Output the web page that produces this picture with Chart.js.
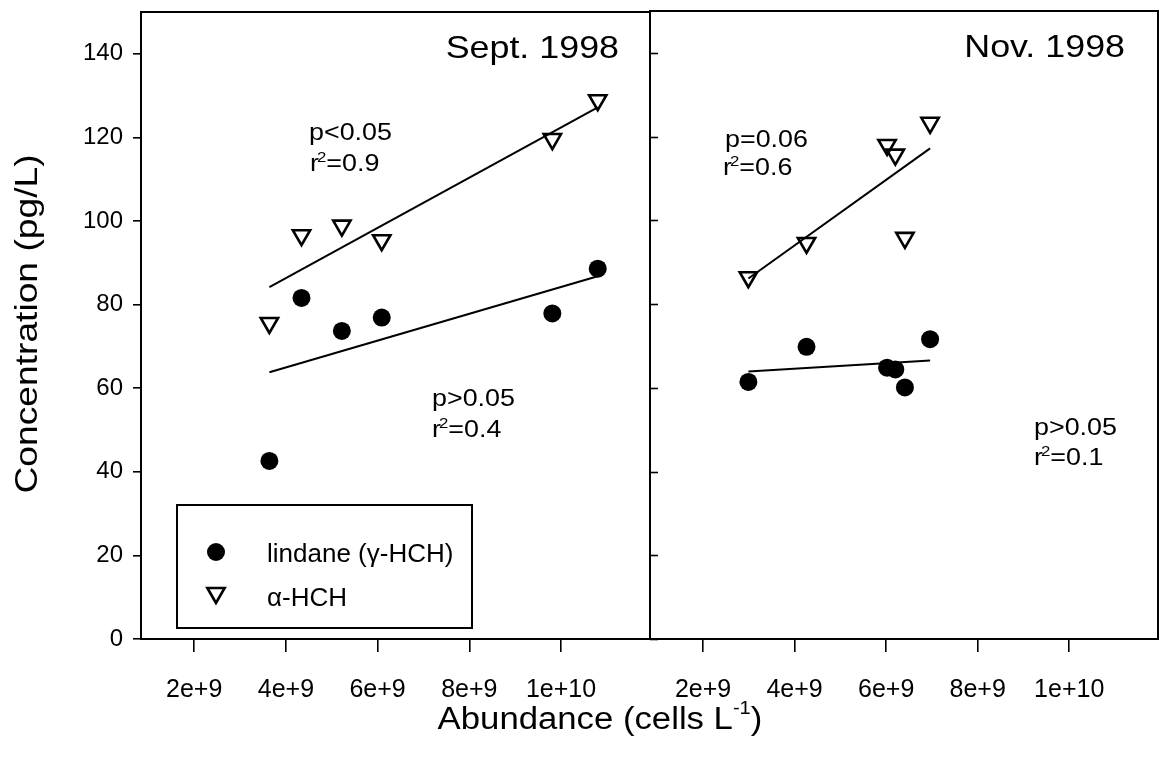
<!DOCTYPE html>
<html><head><meta charset="utf-8">
<script src="https://cdn.jsdelivr.net/npm/chart.js@4"></script>
<style>
html,body{margin:0;padding:0;background:#fff;}
#wrap{position:relative;width:1161px;height:761px;background:#fff;}
#wrap canvas{position:absolute;left:0;top:0;}
</style></head><body>
<div id="wrap"><canvas id="c1" width="1161" height="761"></canvas><canvas id="c2" width="1161" height="761"></canvas></div>
<script>
// ---- data ----
const xTickValues = [2e9, 4e9, 6e9, 8e9, 1e10];
const xTickLabels = ['2e+9', '4e+9', '6e+9', '8e+9', '1e+10'];
const yTickValues = [0, 20, 40, 60, 80, 100, 120, 140];

const septAbundance = [3.64e9, 4.34e9, 5.22e9, 6.09e9, 9.81e9, 10.8e9];
const septLindane   = [42.6, 81.6, 73.7, 76.9, 77.9, 88.6];
const septAlpha     = [75.6, 96.6, 98.9, 95.4, 119.6, 128.9];
const septFitX      = [3.64e9, 10.8e9];
const septLindaneFit = [63.8, 86.8];
const septAlphaFit   = [84.2, 127.2];

const novAbundance = [2.99e9, 4.26e9, 6.02e9, 6.20e9, 6.41e9, 6.96e9];
const novLindane   = [61.4, 69.8, 64.8, 64.4, 60.1, 71.6];
const novAlpha     = [86.4, 94.6, 118.0, 115.7, 95.8, 123.3];
const novFitX      = [2.99e9, 6.96e9];
const novLindaneFit = [63.9, 66.5];
const novAlphaFit   = [86.1, 117.2];

const FONT = "'Liberation Sans', Arial, Helvetica, sans-serif";
const X_MIN = 0.84e9, X_MAX = 11.94e9, Y_MIN = 0, Y_MAX = 150;

const pts = (xs, ys) => xs.map((x, i) => ({x: x, y: ys[i]}));

function datasets(ab, lin, alp, fx, linFit, alpFit) {
  return [
    {label: 'lindane (γ-HCH)', data: pts(ab, lin), pointStyle: 'circle', pointRadius: 9,
     backgroundColor: '#000', borderColor: '#000', borderWidth: 0, showLine: false},
    {label: 'α-HCH', data: pts(ab, alp), pointStyle: 'triangle', rotation: 180, pointRadius: 10,
     backgroundColor: 'rgba(255,255,255,0)', borderColor: '#000', borderWidth: 2.6, showLine: false},
    {label: 'fit1', data: pts(fx, linFit), showLine: true, pointRadius: 0, borderColor: '#000', borderWidth: 2, fill: false},
    {label: 'fit2', data: pts(fx, alpFit), showLine: true, pointRadius: 0, borderColor: '#000', borderWidth: 2, fill: false}
  ];
}

function xScale() {
  return {
    type: 'linear', min: X_MIN, max: X_MAX,
    afterBuildTicks: s => { s.ticks = xTickValues.map(v => ({value: v})); },
    ticks: {
      callback: v => xTickLabels[xTickValues.indexOf(v)],
      color: '#000', font: {family: FONT, size: 25}, padding: 23, maxRotation: 0, autoSkip: false
    },
    grid: {drawOnChartArea: false, drawTicks: true, tickLength: 13, color: '#000', lineWidth: 1.6},
    border: {display: false},
    afterFit: s => { s.height = 122; s.paddingLeft = 0; s.paddingRight = 0; }
  };
}

function frameAndText(drawFn) {
  return {
    id: 'frame',
    afterDatasetsDraw(chart) {
      const ctx = chart.ctx, a = chart.chartArea;
      ctx.save();
      ctx.strokeStyle = '#000';
      ctx.lineWidth = 2;
      ctx.strokeRect(a.left, a.top, a.right - a.left, a.bottom - a.top);
      drawFn(chart, ctx, a);
      ctx.restore();
    }
  };
}

// draw text with optional horizontal stretch (the source typeface is wide)
function txt(ctx, s, x, y, size, align, stretch) {
  const k = stretch || 1;
  ctx.save();
  ctx.font = size + 'px ' + FONT;
  ctx.fillStyle = '#000';
  ctx.textAlign = align || 'left';
  ctx.textBaseline = 'alphabetic';
  ctx.translate(x, y);
  ctx.scale(k, 1);
  ctx.fillText(s, 0, 0);
  ctx.restore();
}
function width(ctx, s, size, stretch) {
  ctx.font = size + 'px ' + FONT;
  return ctx.measureText(s).width * (stretch || 1);
}
function rSq(ctx, val, x, y, size, k) {
  const small = Math.round(size * 0.62);
  txt(ctx, 'r', x, y, size, 'left', k);
  const w = width(ctx, 'r', size, k);
  txt(ctx, '2', x + w - 2, y - size * 0.38, small, 'left', k);
  const w2 = width(ctx, '2', small, k);
  txt(ctx, '=' + val, x + w - 2 + w2, y, size, 'left', k);
}

const K = 1.12;

const leftPlugin = frameAndText((chart, ctx, a) => {
  txt(ctx, 'Sept. 1998', 619, 58, 32, 'right', K);
  txt(ctx, 'p<0.05', 309, 140, 24, 'left', K);
  rSq(ctx, '0.9', 310, 171, 24, K);
  txt(ctx, 'p>0.05', 432, 406, 24, 'left', K);
  rSq(ctx, '0.4', 432, 437, 24, K);
  // legend box
  ctx.lineWidth = 2; ctx.strokeStyle = '#000';
  ctx.strokeRect(177, 505, 295, 123);
  ctx.fillStyle = '#000';
  ctx.beginPath(); ctx.arc(216, 552, 9, 0, Math.PI * 2); ctx.fill();
  const r = 10, cx = 216, cy = 593;
  ctx.beginPath();
  ctx.moveTo(cx, cy + r);
  ctx.lineTo(cx - r * Math.sin(Math.PI / 3), cy - r / 2);
  ctx.lineTo(cx + r * Math.sin(Math.PI / 3), cy - r / 2);
  ctx.closePath(); ctx.lineWidth = 2.6; ctx.stroke();
  txt(ctx, 'lindane (γ-HCH)', 267, 562, 26);
  txt(ctx, 'α-HCH', 267, 606, 26);
  // y axis title
  ctx.save();
  ctx.translate(37, 324);
  ctx.rotate(-Math.PI / 2);
  txt(ctx, 'Concentration (pg/L)', 0, 0, 31, 'center', 1.2);
  ctx.restore();
});

const rightPlugin = frameAndText((chart, ctx, a) => {
  const ys = chart.scales.y;
  ctx.lineWidth = 1.6; ctx.strokeStyle = '#000';
  yTickValues.forEach(v => {
    const p = Math.round(ys.getPixelForValue(v)) + 0.5;
    ctx.beginPath(); ctx.moveTo(a.left, p); ctx.lineTo(a.left + 8, p); ctx.stroke();
  });
  txt(ctx, 'Nov. 1998', 1125, 57, 32, 'right', K);
  txt(ctx, 'p=0.06', 725, 147, 24, 'left', K);
  rSq(ctx, '0.6', 723, 175, 24, K);
  txt(ctx, 'p>0.05', 1034, 435, 24, 'left', K);
  rSq(ctx, '0.1', 1034, 465, 24, K);
  // x axis title spanning both panels
  const big = 31, small = 18;
  const t1 = 'Abundance (cells L', sup = '-1', t2 = ')';
  const w1 = width(ctx, t1, big, K), w2 = width(ctx, sup, small, K), w3 = width(ctx, t2, big, K);
  let x = 600 - (w1 + w2 + w3) / 2;
  txt(ctx, t1, x, 729, big, 'left', K); x += w1;
  txt(ctx, sup, x, 714, small, 'left', K); x += w2;
  txt(ctx, t2, x, 729, big, 'left', K);
});

new Chart(document.getElementById('c1'), {
  type: 'scatter',
  data: {datasets: datasets(septAbundance, septLindane, septAlpha, septFitX, septLindaneFit, septAlphaFit)},
  options: {
    responsive: false, animation: false,
    layout: {autoPadding: false, padding: {left: 0, top: 12, right: 511, bottom: 0}},
    plugins: {legend: {display: false}, tooltip: {enabled: false}},
    scales: {
      x: xScale(),
      y: {
        type: 'linear', min: Y_MIN, max: Y_MAX,
        afterBuildTicks: s => { s.ticks = yTickValues.map(v => ({value: v})); },
        ticks: {color: '#000', font: {family: FONT, size: 24}, padding: 10},
        grid: {drawOnChartArea: false, drawTicks: true, tickLength: 8, color: '#000', lineWidth: 1.6},
        border: {display: false},
        afterFit: s => { s.width = 141; s.paddingTop = 0; s.paddingBottom = 0; }
      }
    }
  },
  plugins: [leftPlugin]
});

new Chart(document.getElementById('c2'), {
  type: 'scatter',
  data: {datasets: datasets(novAbundance, novLindane, novAlpha, novFitX, novLindaneFit, novAlphaFit)},
  options: {
    responsive: false, animation: false,
    layout: {autoPadding: false, padding: {left: 650, top: 11, right: 3, bottom: 0}},
    plugins: {legend: {display: false}, tooltip: {enabled: false}},
    scales: {
      x: xScale(),
      y: {type: 'linear', min: Y_MIN, max: Y_MAX, display: false}
    }
  },
  plugins: [rightPlugin]
});
</script>
</body></html>
